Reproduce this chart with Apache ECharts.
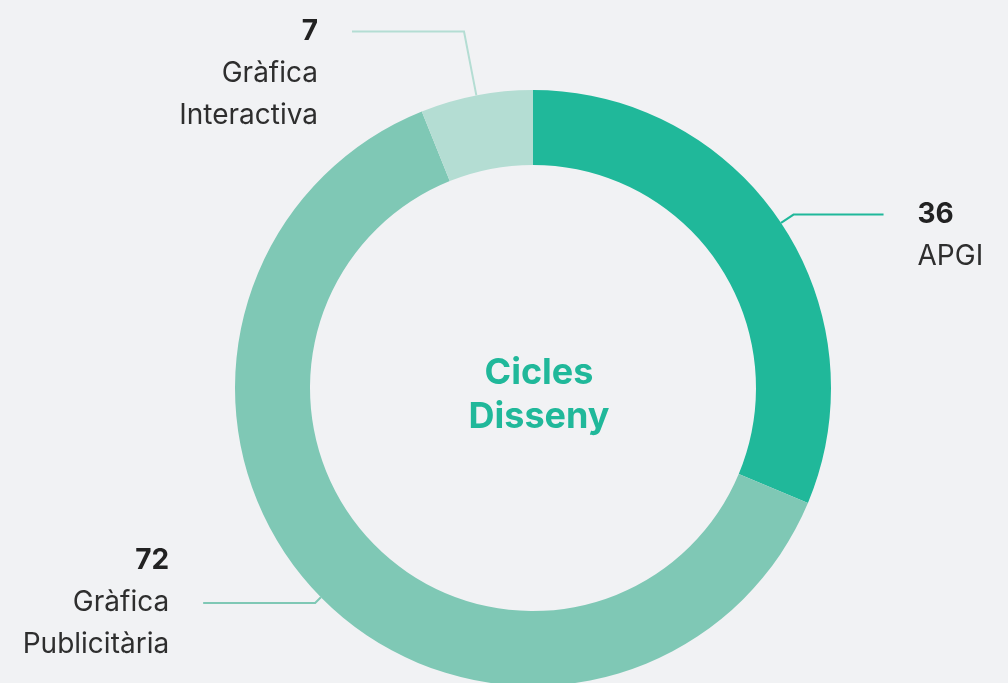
<!DOCTYPE html>
<html>
<head>
<meta charset="utf-8">
<title>Cicles Disseny</title>
<script src="https://cdn.jsdelivr.net/npm/echarts@6/dist/echarts.min.js"></script>
<style>
  html, body { margin: 0; padding: 0; background: #f1f2f4; }
  #chart { width: 1008px; height: 683px; }
</style>
</head>
<body>
<div id="chart"></div>
<script>
// dades del gràfic
var categories = ['APGI', 'Gràfica Publicitària', 'Gràfica Interactiva'];
var labelNames = [['APGI'], ['Gràfica', 'Publicitària'], ['Gràfica', 'Interactiva']];
var values = [36, 72, 7];
var colors = ['#20b89a', '#7fc8b5', '#b4ddd3'];
var centerTitle = 'Cicles\nDisseny';

// ajustos de les etiquetes (longitud de les línies i marge superior)
var labelTweaks = [
  { length: 15, length2: 90, padTop: 42 },
  { length: 8, length2: 112, padTop: 0 },
  { length: 65, length2: 112, padTop: 84 }
];

var myChart = echarts.init(document.getElementById('chart'));

var data = values.map(function (v, i) {
  return {
    name: categories[i],
    value: v,
    itemStyle: { color: colors[i] },
    label: { padding: [labelTweaks[i].padTop, 0, 0, 0] },
    labelLine: { length: labelTweaks[i].length, length2: labelTweaks[i].length2 }
  };
});

myChart.setOption({
  backgroundColor: '#f1f2f4',
  animation: false,
  title: {
    text: centerTitle,
    left: 534,
    top: 390,
    textAlign: 'center',
    textVerticalAlign: 'middle',
    textStyle: {
      fontFamily: 'Inter',
      fontSize: 36,
      fontWeight: 'bold',
      lineHeight: 44,
      color: '#20b89a'
    }
  },
  series: [{
    type: 'pie',
    center: [533, 388],
    radius: [223, 298],
    startAngle: 90,
    clockwise: true,
    avoidLabelOverlap: false,
    emphasis: { disabled: true },
    label: {
      show: true,
      position: 'outside',
      distanceToLabelLine: 34,
      fontFamily: 'Inter',
      formatter: function (p) {
        return '{v|' + p.value + '}\n' + labelNames[p.dataIndex].map(function (s) {
          return '{n|' + s + '}';
        }).join('\n');
      },
      rich: {
        v: { fontFamily: 'Inter', fontSize: 28, fontWeight: 'bold', color: '#222222', lineHeight: 42 },
        n: { fontFamily: 'Inter', fontSize: 28, color: '#2e2e2e', lineHeight: 42 }
      }
    },
    labelLine: {
      show: true,
      smooth: false,
      lineStyle: { width: 2 }
    },
    data: data
  }]
});
</script>
</body>
</html>
